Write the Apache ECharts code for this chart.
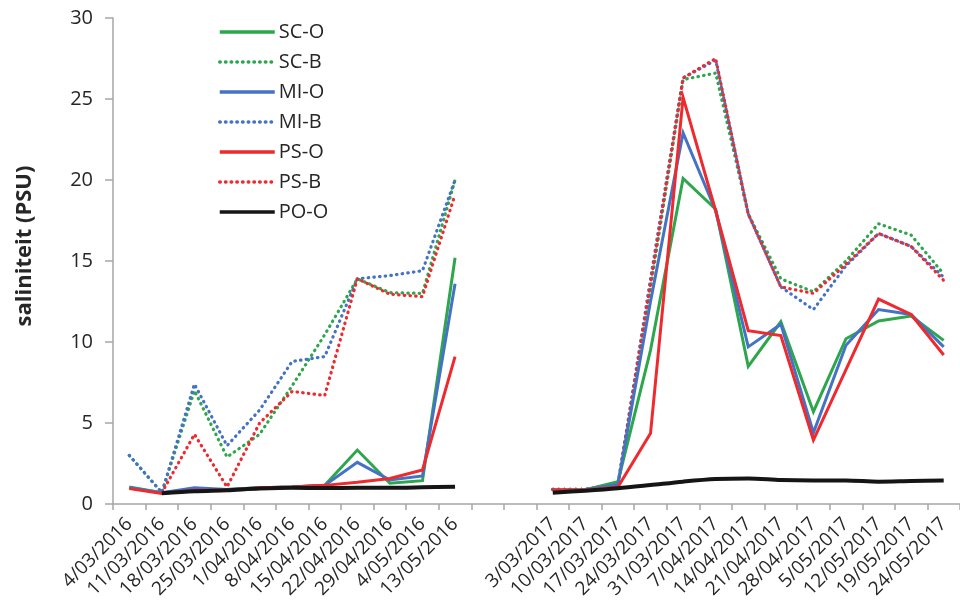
<!DOCTYPE html>
<html>
<head>
<meta charset="utf-8">
<script src="https://cdn.jsdelivr.net/npm/echarts@6/dist/echarts.min.js"></script>
<style>
  html, body { margin: 0; padding: 0; background: #fff; }
  #chart { width: 960px; height: 606px; }
</style>
</head>
<body>
<div id="chart"></div>
<script>
// Sampling dates: two campaigns separated by two empty slots
const dates2016 = ['4/03/2016', '11/03/2016', '18/03/2016', '25/03/2016', '1/04/2016', '8/04/2016',
  '15/04/2016', '22/04/2016', '29/04/2016', '4/05/2016', '13/05/2016'];
const gapSlots = ['', ''];
const dates2017 = ['3/03/2017', '10/03/2017', '17/03/2017', '24/03/2017', '31/03/2017', '7/04/2017',
  '14/04/2017', '21/04/2017', '28/04/2017', '5/05/2017', '12/05/2017', '19/05/2017', '24/05/2017'];

const yTicks = [0, 5, 10, 15, 20, 25, 30];

// Salinity (PSU) per station, 2016 and 2017 campaigns
const scO2016 = [1.05, 0.7, 0.9, 0.9, 1.0, 1.05, 1.15, 3.33, 1.28, 1.44, 15.2];
const scO2017 = [0.86, 0.88, 1.38, 9.5, 20.1, 18.2, 8.5, 11.25, 5.7, 10.2, 11.3, 11.6, 10.1];
const scB2016 = [3.0, 0.7, 7.0, 2.9, 4.3, 7.3, 10.45, 13.9, 13.05, 13.0, 20.0];
const scB2017 = [0.9, 0.9, 1.25, 13.3, 26.2, 26.6, 17.9, 13.9, 13.1, 15.0, 17.3, 16.6, 14.2];
const miO2016 = [1.0, 0.7, 1.0, 0.9, 1.0, 1.05, 1.15, 2.57, 1.48, 1.73, 13.6];
const miO2017 = [0.86, 0.88, 1.2, 12.5, 22.9, 18.1, 9.7, 11.1, 4.4, 9.8, 12.0, 11.7, 9.7];
const miB2016 = [3.0, 0.7, 7.4, 3.6, 5.8, 8.8, 9.1, 13.9, 14.1, 14.4, 20.0];
const miB2017 = [0.9, 0.9, 1.2, 13.9, 26.3, 27.4, 17.9, 13.4, 12.0, 14.7, 16.7, 15.9, 14.0];
const psO2016 = [0.95, 0.65, 0.85, 0.85, 1.0, 1.05, 1.15, 1.34, 1.58, 2.1, 9.1];
const psO2017 = [0.86, 0.86, 1.05, 4.36, 25.1, 18.1, 10.7, 10.4, 3.95, 8.3, 12.65, 11.7, 9.2];
const psB2016 = [null, 0.7, 4.3, 1.05, 5.0, 6.95, 6.7, 13.9, 12.95, 12.8, 19.1];
const psB2017 = [0.9, 0.9, 1.15, 13.6, 26.3, 27.5, 17.9, 13.4, 13.0, 14.8, 16.7, 15.9, 13.8];
const poO2016 = [null, 0.66, 0.78, 0.85, 0.95, 1.0, 0.98, 1.0, 1.0, 1.03, 1.07];
const poO2017 = [0.7, 0.82, 0.97, 1.17, 1.38, 1.54, 1.58, 1.48, 1.45, 1.45, 1.38, 1.42, 1.45];

const categories = dates2016.concat(gapSlots, dates2017);
const gapValues = gapSlots.map(() => null);
const join = (a, b) => a.concat(gapValues, b);

const GREEN = '#2ea64c';
const BLUE = '#4472c4';
const RED = '#ee2a2e';
const BLACK = '#151515';
const FONT = 'Open Sans';

function lineSeries(name, data, color, dotted, width, z) {
  return {
    name: name,
    type: 'line',
    data: data,
    symbol: 'none',
    z: z,
    connectNulls: false,
    lineStyle: {
      color: color,
      width: width,
      type: dotted ? [0.5, 5.2] : 'solid',
      cap: dotted ? 'round' : 'butt',
      join: 'miter'
    },
    itemStyle: { color: color }
  };
}

const series = [
  lineSeries('SC-B', join(scB2016, scB2017), GREEN, true, 3.2, 2),
  lineSeries('MI-B', join(miB2016, miB2017), BLUE, true, 3.2, 2),
  lineSeries('PS-B', join(psB2016, psB2017), RED, true, 3.2, 2),
  lineSeries('SC-O', join(scO2016, scO2017), GREEN, false, 3, 3),
  lineSeries('MI-O', join(miO2016, miO2017), BLUE, false, 3, 3),
  lineSeries('PS-O', join(psO2016, psO2017), RED, false, 3, 3),
  Object.assign(lineSeries('PO-O', join(poO2016, poO2017), BLACK, false, 4, 4), { smooth: 0.3 })
];

const chart = echarts.init(document.getElementById('chart'), null, { renderer: 'canvas' });
chart.setOption({
  animation: false,
  backgroundColor: '#ffffff',
  textStyle: { fontFamily: FONT },
  grid: { left: 113, top: 18, width: 858, height: 486, containLabel: false },
  legend: {
    orient: 'vertical',
    left: 213,
    top: 17,
    itemWidth: 55,
    itemHeight: 20,
    itemGap: 10,
    itemStyle: { opacity: 0, borderWidth: 0 },
    lineStyle: { width: 3.5 },
    data: ['SC-O', 'SC-B', 'MI-O', 'MI-B', 'PS-O', 'PS-B', 'PO-O'],
    textStyle: { fontFamily: FONT, fontSize: 20, color: '#262626', padding: [0, 0, 0, -1] }
  },
  xAxis: {
    type: 'category',
    data: categories,
    boundaryGap: true,
    axisLine: { show: true, lineStyle: { color: '#a6a6a6', width: 1.5 } },
    axisTick: { show: true, interval: 0, length: 6, lineStyle: { color: '#a6a6a6', width: 1.5 } },
    axisLabel: {
      interval: 0,
      rotate: 45,
      margin: 17,
      fontFamily: FONT,
      fontSize: 19,
      color: '#262626'
    },
    splitLine: { show: false }
  },
  yAxis: {
    type: 'value',
    min: yTicks[0],
    max: yTicks[yTicks.length - 1],
    interval: 5,
    axisLine: { show: true, lineStyle: { color: '#a6a6a6', width: 1.5 } },
    axisTick: { show: true, length: 8, lineStyle: { color: '#a6a6a6', width: 1.5 } },
    axisLabel: {
      margin: 20,
      fontFamily: FONT,
      fontSize: 20,
      color: '#262626',
      formatter: v => (yTicks.indexOf(v) >= 0 ? String(v) : '')
    },
    splitLine: { show: false }
  },
  graphic: [{
    type: 'text',
    x: 25,
    y: 246,
    rotation: Math.PI / 2,
    style: {
      text: 'saliniteit (PSU)',
      fontFamily: FONT,
      fontWeight: 'bold',
      fontSize: 22,
      fill: '#262626',
      textAlign: 'center',
      textVerticalAlign: 'middle'
    }
  }],
  series: series
});
</script>
</body>
</html>
